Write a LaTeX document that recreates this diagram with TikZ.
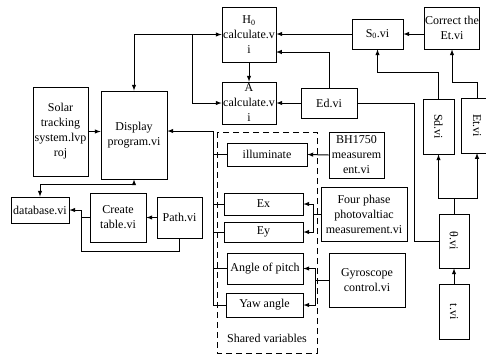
\documentclass[tikz,border=0pt]{standalone}
\usepackage{fontspec}
\setmainfont{Liberation Serif}
\usetikzlibrary{arrows}

\begin{document}
\begin{tikzpicture}[
				x=1pt, y=-1pt,
				font=\fontsize{12}{15}\selectfont,
				>=latex,
				block/.style={draw, line width=0.8pt, align=center, inner sep=1pt},
				size/.style 2 args={minimum width=#1pt, minimum height=#2pt},
				link/.style={line width=1pt},
				every node/.style={anchor=center}
				]
				\useasboundingbox (0,0) rectangle (486,354);
				
				% blocks
				\node[block, size={54}{55}] (h0) at (249,34.5) {H\textsubscript{0}\\calculate.v\\i};
				\node[block, size={54}{42}] (acalc) at (249,103) {A\\calculate.v\\i};
				\node[block, size={51}{30}] (s0) at (377.5,34) {S\textsubscript{0}.vi};
				\node[block, size={54}{42}] (corr) at (452,28) {Correct the\\Et.vi};
				\node[block, size={56}{30}] (ed) at (329,103) {Ed.vi};
				\node[block, size={55}{46}] (bh) at (356.5,155) {BH1750\\measurem\\ent.vi};
				\node[block, size={31}{55}] (sd) at (438.5,126.5) {\rotatebox{-90}{Sd.vi}};
				\node[block, size={36}{55}] (et) at (479,125.5) {\rotatebox{-90}{Et.vi}\hspace{4pt}};
				\node[block, size={30}{54}] (theta) at (454,241) {\rotatebox{-90}{θ.vi}};
				\node[block, size={30}{55}] (tvi) at (454,311.5) {\rotatebox{-90}{t.vi}};
				\node[block, size={86}{54}] (four) at (364,214) {Four phase\\photovaltiac\\measurement.vi};
				\node[block, size={76}{54}] (gyro) at (367,280) {Gyroscope\\control.vi};
				\node[block, size={80}{23}] (illum) at (267,154.5) {illuminate};
				\node[block, size={79}{22}] (ex) at (263.5,204) {Ex};
				\node[block, size={79}{20}] (ey) at (263.5,232) {Ey};
				\node[block, size={76}{31}] (pitch) at (265,268.5) {Angle of pitch};
				\node[block, size={77}{24}] (yaw) at (264.5,305) {Yaw angle};
				\node[block, size={55}{89}] (solar) at (60.5,131.5) {Solar\\tracking\\system.lvp\\roj};
				\node[block, size={66}{88}] (disp) at (134,135) {Display\\program.vi};
				\node[block, size={58}{26}] (db) at (40,210) {database.vi};
				\node[block, size={56}{49}] (ct) at (118,217.5) {Create\\table.vi};
				\node[block, size={45}{41}] (path) at (179.5,217.5) {Path.vi};
				
				% shared variables
				\draw[line width=0.8pt, dash pattern=on 6pt off 4pt] (217,132) rectangle (317,353);
				\node (shared) at (267,338) {Shared variables};
				
				% bend points
				\coordinate (j1) at (192,34.5);
				\coordinate (edh) at (276,52);
				\coordinate (edt) at (414,241);
				\coordinate (sdk) at (377.5,72);
				\coordinate (etk) at (452,82);
				\coordinate (thk) at (454,198);
				\coordinate (busT) at (213,131);
				\coordinate (busB) at (213,305);
				\coordinate (fp) at (313,214);
				\coordinate (gy) at (315,280);
				\coordinate (dbk) at (40,184);
				\coordinate (ck) at (81,217.5);
				\coordinate (pk) at (179.5,251);
				\coordinate (etb) at (477,153);
				\coordinate (ett) at (477,98);
				
				% connectors
				\draw[link, <->] (disp.north) |- (h0.west);
				\draw[link, ->] (j1) |- (acalc.west);
				\draw[link, ->] (h0.south) -- (acalc.north);
				\draw[link, ->] (s0.west) -- (s0.west -| h0.east);
				\draw[link, ->] (s0.east -| corr.west) -- (s0.east);
				\draw[link, ->] (ed.north) |- (edh);
				\draw[link, ->] (ed.west) -- (acalc.east);
				\draw[link] (ed.east) -| (edt) -- (theta.west);
				\draw[link, ->] (sd.north) |- (sdk) -- (s0.south);
				\draw[link, ->] (ett) |- (etk) -- (corr.south);
				\draw[link, ->] (theta.north) -- (thk) -| (sd.south);
				\draw[link, ->] (thk) -| (etb);
				\draw[link, ->] (tvi.north) -- (theta.south);
				\draw[link, ->] (solar.east) -- (solar.east -| disp.west);
				\draw[link, ->] (busB) -- (busT) -- (busT -| disp.east);
				\foreach \n in {illum, ex, ey, pitch, yaw}
					\draw[link] (\n.west -| busT) -- (\n.west);
				\draw[link, ->] (bh.west) -- (illum.east);
				\draw[link, ->] (four.west) -- (fp) |- (ex.east);
				\draw[link, ->] (fp) |- (ey.east);
				\draw[link, ->] (gyro.west) -- (gy) |- (pitch.east);
				\draw[link, ->] (gy) |- (yaw.east);
				\draw[link, <->] (disp.south) |- (dbk) -- (db.north);
				\draw[link, ->] (path.west) -- (ct.east);
				\draw[link, ->] (ct.west) -- (ck) |- (db.east);
				\draw[link] (path.south) -- (pk) -| (ck);
\end{tikzpicture}
\end{document}
